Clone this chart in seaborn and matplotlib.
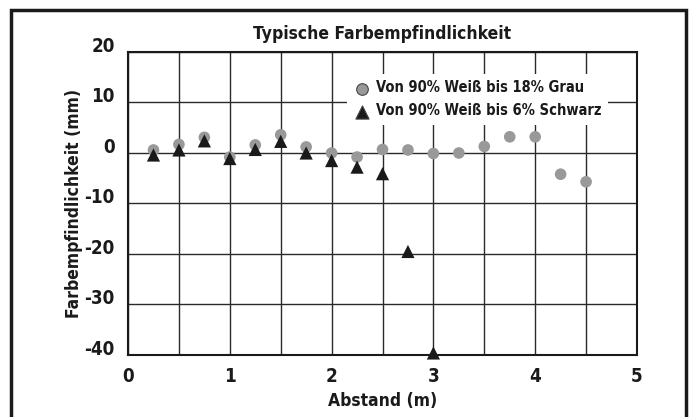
import matplotlib
matplotlib.use("Agg")
import matplotlib.pyplot as plt
import seaborn as sns
import pandas as pd
import numpy as np
from matplotlib.patches import Rectangle

abstand_grau = [0.25, 0.5, 0.75, 1.0, 1.25, 1.5, 1.75, 2.0, 2.25, 2.5, 2.75, 3.0, 3.25, 3.5, 3.75, 4.0, 4.25, 4.5]
werte_grau = [0.6, 1.7, 3.1, -0.8, 1.6, 3.6, 1.2, 0.0, -0.8, 0.7, 0.6, -0.1, 0.0, 1.3, 3.2, 3.2, -4.2, -5.7]
abstand_schwarz = [0.25, 0.5, 0.75, 1.0, 1.25, 1.5, 1.75, 2.0, 2.25, 2.5, 2.75, 3.0]
werte_schwarz = [-0.4, 0.6, 2.4, -1.1, 0.7, 2.3, 0.0, -1.5, -2.8, -4.1, -19.5, -39.6]
label_grau = "Von 90% Weiß bis 18% Grau"
label_schwarz = "Von 90% Weiß bis 6% Schwarz"
x_ticks = [0, 1, 2, 3, 4, 5]
y_ticks = [20, 10, 0, -10, -20, -30, -40]

sns.set_style("white")
plt.rcParams['font.family'] = ['DejaVu Sans']
plt.rcParams['font.stretch'] = 'condensed'
plt.rcParams['font.weight'] = 'bold'
plt.rcParams['axes.unicode_minus'] = False

fig = plt.figure(figsize=(6.92, 4.17), dpi=100)
ax = fig.add_axes([0.185, 0.1487, 0.7355, 0.7266])

df_g = pd.DataFrame({"x": abstand_grau, "y": werte_grau})
df_s = pd.DataFrame({"x": abstand_schwarz, "y": werte_schwarz})

ax.set_xlim(0, 5)
ax.set_ylim(-40, 20)
ax.set_xticks(x_ticks)
ax.set_xticks(np.arange(0.5, 5, 1.0), minor=True)
ax.set_yticks(y_ticks)
ax.grid(True, which='both', color='#2a2a2a', linewidth=1.0)
ax.set_axisbelow(True)

sns.scatterplot(data=df_g, x="x", y="y", ax=ax, color='#999999', marker='o',
                s=70, edgecolor='none', label=label_grau, zorder=3, clip_on=False)
sns.scatterplot(data=df_s, x="x", y="y", ax=ax, color='#1a1a1a', marker='^',
                s=90, edgecolor='none', label=label_schwarz, zorder=4, clip_on=False)

for sp in ax.spines.values():
    sp.set_color('#1a1a1a')
    sp.set_linewidth(1.5)

ax.tick_params(axis='x', which='both', length=0, labelsize=13.5, pad=9, colors='#1a1a1a')
ax.tick_params(axis='y', which='both', length=0, labelsize=13.5, pad=9.5, colors='#1a1a1a')
for lab in ax.get_xticklabels() + ax.get_yticklabels():
    lab.set_fontweight('bold')
    lab.set_fontstretch('condensed')
for lab in ax.get_yticklabels():
    lab.set_verticalalignment('baseline')

ax.set_xlabel("Abstand (m)", fontsize=12.5, fontweight='bold', color='#1a1a1a', labelpad=4)
ax.set_ylabel("Farbempfindlichkeit (mm)", fontsize=12.5, fontweight='bold', color='#1a1a1a', labelpad=1)
ax.set_title("Typische Farbempfindlichkeit", fontsize=12.5, fontweight='bold', color='#1a1a1a', pad=9)

leg = ax.legend(loc='upper right', bbox_to_anchor=(0.958, 0.952), frameon=True, fontsize=10.5,
                handletextpad=0.35, borderpad=0.45, labelspacing=0.55, handlelength=1.2)
leg.get_frame().set_facecolor('white')
leg.get_frame().set_edgecolor('none')
leg.get_frame().set_alpha(1.0)
for t in leg.get_texts():
    t.set_fontweight('bold')
    t.set_color('#1a1a1a')
for h in leg.legend_handles:
    try:
        h.set_edgecolor('#444444')
        h.set_linewidth(0.8)
    except Exception:
        pass

fig.patches.append(Rectangle((0.016, -0.02), 0.975, 0.995, transform=fig.transFigure,
                             fill=False, edgecolor='#1a1a1a', linewidth=2.5))

fig.savefig("out.png", dpi=100)
